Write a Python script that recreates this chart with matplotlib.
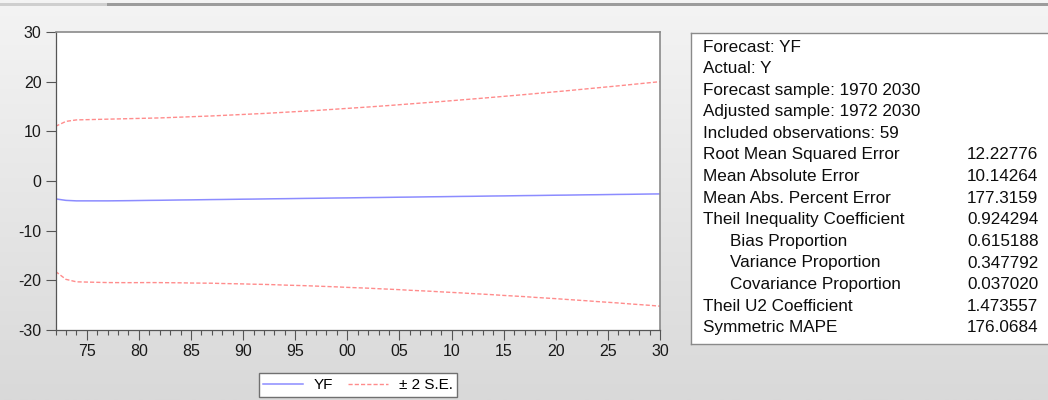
import numpy as np
import matplotlib
matplotlib.use("Agg")
from matplotlib import pyplot as plt
from matplotlib.ticker import MultipleLocator, FixedLocator

plt.rcParams['font.family'] = ['Liberation Sans', 'DejaVu Sans']
plt.rcParams['axes.unicode_minus'] = False

# data (forecast 1972-2030)
years = list(range(1972, 2031))
yf = [-3.6, -3.9, -4.0, -4.0, -4.0, -4.0, -3.98, -3.96, -3.93, -3.9,
      -3.88, -3.85, -3.82, -3.8, -3.77, -3.74, -3.72, -3.69, -3.66, -3.64,
      -3.61, -3.58, -3.56, -3.53, -3.5, -3.48, -3.45, -3.42, -3.4, -3.37,
      -3.34, -3.32, -3.29, -3.26, -3.24, -3.21, -3.18, -3.16, -3.13, -3.1,
      -3.08, -3.05, -3.02, -3.0, -2.97, -2.94, -2.92, -2.89, -2.86, -2.84,
      -2.81, -2.78, -2.76, -2.73, -2.7, -2.68, -2.65, -2.62, -2.6]
upper = [11.0, 12.0, 12.3, 12.35, 12.4, 12.45, 12.5, 12.55, 12.6, 12.65,
         12.7, 12.78, 12.86, 12.94, 13.02, 13.1, 13.2, 13.3, 13.4, 13.5,
         13.6, 13.72, 13.84, 13.96, 14.08, 14.2, 14.34, 14.48, 14.62, 14.76,
         14.9, 15.05, 15.2, 15.36, 15.52, 15.68, 15.84, 16.0, 16.17, 16.34,
         16.51, 16.68, 16.86, 17.04, 17.22, 17.4, 17.59, 17.78, 17.97, 18.16,
         18.36, 18.56, 18.76, 18.96, 19.16, 19.37, 19.58, 19.79, 20.0]
lower = [-18.2, -19.8, -20.3, -20.35, -20.4, -20.45, -20.46, -20.47, -20.46, -20.45,
         -20.46, -20.48, -20.5, -20.54, -20.56, -20.58, -20.64, -20.68, -20.72, -20.78,
         -20.82, -20.88, -20.96, -21.02, -21.08, -21.16, -21.24, -21.32, -21.42, -21.5,
         -21.58, -21.69, -21.78, -21.88, -22.0, -22.1, -22.2, -22.32, -22.43, -22.54,
         -22.67, -22.78, -22.9, -23.04, -23.16, -23.28, -23.43, -23.56, -23.69, -23.84,
         -23.98, -24.12, -24.28, -24.42, -24.56, -24.73, -24.88, -25.03, -25.2]

# forecast evaluation table
stat_names = ["Forecast: YF", "Actual: Y", "Forecast sample: 1970 2030",
              "Adjusted sample: 1972 2030", "Included observations: 59",
              "Root Mean Squared Error", "Mean Absolute Error",
              "Mean Abs. Percent Error", "Theil Inequality Coefficient",
              "Bias Proportion", "Variance Proportion",
              "Covariance Proportion", "Theil U2 Coefficient", "Symmetric MAPE"]
stat_indent = [0, 0, 0, 0, 0, 0, 0, 0, 0, 1, 1, 1, 0, 0]
stat_values = ["", "", "", "", "", "12.22776", "10.14264", "177.3159", "0.924294",
               "0.615188", "0.347792", "0.037020", "1.473557", "176.0684"]

W, H = 1048, 400
fig = plt.figure(figsize=(W / 100, H / 100), dpi=100)

# grey gradient window background
bg = fig.add_axes([0, 0, 1, 1], zorder=-10)
grad = np.linspace(0, 1, 256).reshape(-1, 1)
bg.imshow(grad, aspect='auto', cmap=matplotlib.colors.LinearSegmentedColormap.from_list(
    'g', ['#f4f4f4', '#d9d9d9']), extent=[0, 1, 0, 1])
bg.set_xlim(0, 1)
bg.set_ylim(0, 1)
bg.axis('off')
bg.add_patch(plt.Rectangle((107 / W, 1 - 6 / H), 1, 3 / H, color='#9c9c9c', lw=0))
bg.add_patch(plt.Rectangle((0, 1 - 6 / H), 107 / W, 3 / H, color='#cfcfcf', lw=0))

# main plot
ax = fig.add_axes([55.5 / W, 1 - 330 / H, (660 - 55.5) / W, (330 - 32) / H])
ax.plot(years, yf, color='#8c8cff', lw=1.1, label='YF')
ax.plot(years, upper, color='#ff8c8c', lw=1.0, ls=(0, (3, 1.5)), label='± 2 S.E.')
ax.plot(years, lower, color='#ff8c8c', lw=1.0, ls=(0, (3, 1.5)))

ax.set_xlim(1972, 2030)
ax.set_ylim(-30, 30)
ax.xaxis.set_major_locator(FixedLocator(list(range(1975, 2031, 5))))
ax.xaxis.set_minor_locator(MultipleLocator(1))
ax.set_xticklabels(['%02d' % (y % 100) for y in range(1975, 2031, 5)])
ax.yaxis.set_major_locator(MultipleLocator(10))
ax.tick_params(axis='both', which='major', direction='out', length=7, width=0.8,
               color='#555555', labelsize=11.5, labelcolor='#1a1a1a', pad=3)
ax.tick_params(axis='x', which='minor', direction='out', length=3.5, width=0.8,
               color='#555555')
ax.tick_params(axis='y', which='minor', length=0)
for s in ['left', 'bottom']:
    ax.spines[s].set_color('#555555')
    ax.spines[s].set_linewidth(0.9)
for s in ['top', 'right']:
    ax.spines[s].set_color('#8a8a8a')
    ax.spines[s].set_linewidth(1.2)

fig.legend(loc='center', bbox_to_anchor=(358 / W, 1 - 385 / H), ncol=2,
           frameon=True, fancybox=False, edgecolor='#707070', fontsize=11,
           handlelength=2.6, columnspacing=1.0, handletextpad=0.7,
           borderpad=0.3, framealpha=1)

# statistics box
box = fig.add_axes([691 / W, 1 - 344 / H, 1 - 691 / W + 0.01, (344 - 32.7) / H])
box.set_xticks([])
box.set_yticks([])
for s in box.spines.values():
    s.set_color('#8a8a8a')
    s.set_linewidth(1.0)

for i, (name, ind, val) in enumerate(zip(stat_names, stat_indent, stat_values)):
    y = 1 - (47 + i * 21.6) / H
    fig.text((703 + 27 * ind) / W, y, name, fontsize=12.3, va='center', ha='left',
             color='#0d0d0d')
    if val:
        fig.text(967 / W, y, val, fontsize=12.3, va='center', ha='left', color='#0d0d0d')

fig.savefig('out.png', dpi=100)
